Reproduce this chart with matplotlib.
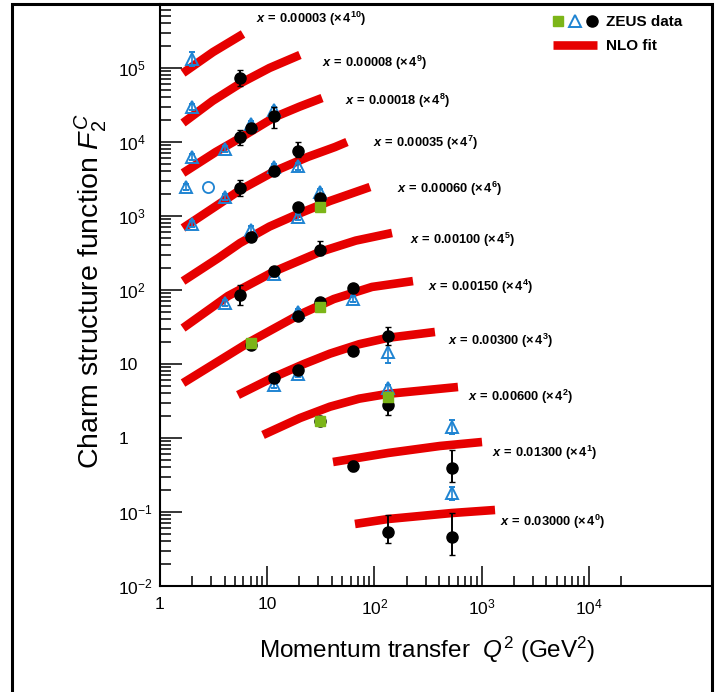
import matplotlib
matplotlib.use("Agg")
import matplotlib.pyplot as plt
from matplotlib.lines import Line2D
from matplotlib.legend_handler import HandlerTuple
from matplotlib.patches import Rectangle
from matplotlib.ticker import FixedLocator, NullFormatter, FixedFormatter

plt.rcParams['font.family'] = ['Liberation Sans', 'DejaVu Sans']
plt.rcParams['mathtext.fontset'] = 'custom'
plt.rcParams['mathtext.rm'] = 'Liberation Sans'
plt.rcParams['mathtext.it'] = 'Liberation Sans:italic'
plt.rcParams['mathtext.bf'] = 'Liberation Sans:bold'
plt.rcParams['mathtext.bfit'] = 'Liberation Sans:bold:italic'

# ---------------- data ----------------
x_bj = ['0.00003', '0.00008', '0.00018', '0.00035', '0.00060', '0.00100',
        '0.00150', '0.00300', '0.00600', '0.01300', '0.03000']
scale_pow = [10, 9, 8, 7, 6, 5, 4, 3, 2, 1, 0]

# NLO fit curves (Q^2, scaled F2c)
fit_q2 = [
    [1.64, 3.12, 5.95],
    [1.64, 3.1, 5.69, 10.5, 20.2],
    [1.64, 3.3, 5.58, 11.8, 20.0, 32.5],
    [1.64, 3.3, 5.58, 11.8, 24.0, 42.9, 55.5],
    [1.64, 3.5, 5.58, 10.5, 19.4, 38.5, 91],
    [1.64, 4.31, 11.6, 31.1, 67, 146],
    [1.64, 6.91, 19.4, 41.8, 95, 229],
    [5.34, 11.6, 22.0, 38.5, 72, 134, 367],
    [9.14, 20.2, 38.5, 72, 134, 602],
    [41.1, 134, 409, 1009],
    [65.9, 134, 530, 1334],
]
fit_f2 = [
    [8.55e4, 1.64e5, 2.88e5],
    [1.81e4, 3.6e4, 6.27e4, 1.0e5, 1.50e5],
    [3810, 7300, 1.13e4, 2.18e4, 3.0e4, 3.93e4],
    [689, 1350, 2244, 4055, 6300, 8550, 1.0e4],
    [132, 270, 431, 720, 1065, 1596, 2465],
    [30.6, 83, 178, 327, 465, 590],
    [5.53, 20.0, 45.5, 75.5, 110, 132],
    [3.81, 6.67, 10.0, 13.8, 18.5, 22.6, 27.1],
    [1.10, 1.86, 2.65, 3.40, 3.95, 4.89],
    [0.474, 0.627, 0.780, 0.883],
    [0.0689, 0.0804, 0.0969, 0.1065],
]

# ZEUS data: black filled circles
dot_q2 = [5.6, 5.6, 7.0, 11.5, 5.6, 11.5, 19.3, 7.0, 19.3, 31, 5.6, 11.5, 31,
          7.0, 19.3, 31, 62.8, 11.5, 19.3, 62.8, 134.8, 31, 134.8, 62.8, 526,
          134.8, 526]
dot_f2 = [72600, 11600, 15300, 22700, 2410, 4060, 7560, 525, 1340, 1770, 85.6,
          181, 347, 18.1, 45.0, 69.5, 105, 6.41, 8.30, 15.1, 23.9, 1.68, 2.79,
          0.423, 0.397, 0.0544, 0.0463]
dot_err_up = [.28, .26, .13, .32, .28, .10, .32, .10, .10, .10, .37, .13, .32,
              .10, .10, .10, .13, .13, .10, .13, .32, .10, .28, .17, .73, .67, 1.07]
dot_err_dn = [.22, .21, .12, .32, .22, .09, .17, .09, .09, .09, .27, .12, .145,
              .09, .09, .09, .09, .09, .09, .09, .24, .09, .27, .145, .35, .30, .43]

# ZEUS data: blue open triangles
tri_q2 = [2.0, 2.0, 2.0, 4.0, 7.0, 11.5, 1.75, 2.0, 4.0, 11.5, 19.3, 7.0, 19.3,
          31, 4.0, 11.5, 19.3, 62.8, 11.5, 19.3, 134.8, 134.8, 526, 526]
tri_f2 = [1.31e5, 2.94e4, 6330, 7970, 17500, 27100, 2440, 780, 1790, 4640, 4670,
          657, 964, 2130, 66.1, 163, 50.9, 74.9, 5.20, 7.33, 14.7, 4.69, 1.41,
          0.179]
tri_err_up = [.25, .10, .10, .10, .10, .10, .10, .10, .10, .10, .12, .10, .10,
              .10, .10, .10, .10, .10, .10, .10, .41, .12, .23, .23]
tri_err_dn = [.20, .09, .09, .09, .09, .09, .09, .09, .09, .09, .11, .09, .09,
              .09, .09, .09, .09, .09, .09, .09, .29, .11, .19, .19]

# ZEUS data: blue open circle
circ_q2 = [2.8]
circ_f2 = [2440]

# ZEUS data: green squares
sq_q2 = [31, 7.0, 31, 31, 134.8]
sq_f2 = [1303, 19.0, 58.4, 1.70, 3.55]
sq_err_dn = [.12, .09, .12, .09, .09]

# label anchors (Q^2, F2) for the x-labels
lab_q2 = [7.86, 32.5, 53.2, 97, 162.5, 215, 316, 486, 747, 1250, 1485]
lab_f2 = [4.59e5, 1.19e5, 3.58e4, 9690, 2317, 474, 110, 20.5, 3.58, 0.627, 0.0733]

# ---------------- plot ----------------
W, H = 719, 692
fig = plt.figure(figsize=(W / 100, H / 100), dpi=100)
ax = fig.add_axes([160 / W, 1 - 586 / H, (711.7 - 160) / W, (586 - 4) / H])
ax.set_xscale('log')
ax.set_yscale('log')
ax.set_xlim(1, 10 ** ((711.7 - 160) / 107.2))
ax.set_ylim(0.01, 10 ** ((586 - 4) / 74 - 2))

RED = '#e60000'
BLUE = '#1f84d2'
GREEN = '#7cb518'

for q, f in zip(fit_q2, fit_f2):
    ax.plot(q, f, color=RED, lw=6.2, solid_capstyle='butt', solid_joinstyle='round',
            zorder=2)

def asym(vals, up, dn):
    return [[v * d for v, d in zip(vals, dn)], [v * u for v, u in zip(vals, up)]]

ax.errorbar(tri_q2, tri_f2, yerr=asym(tri_f2, tri_err_up, tri_err_dn), fmt='^',
            ms=8, mfc='none', mec=BLUE, mew=1.4, ecolor=BLUE, elinewidth=1.2,
            capsize=2, capthick=1.0, zorder=3)
ax.plot(circ_q2, circ_f2, 'o', ms=8, mfc='none', mec=BLUE, mew=1.3, zorder=3)
ax.errorbar(dot_q2, dot_f2, yerr=asym(dot_f2, dot_err_up, dot_err_dn), fmt='o',
            ms=8, color='black', ecolor='black', elinewidth=1.4,
            capsize=2, capthick=1.0, zorder=4)
ax.errorbar(sq_q2, sq_f2, yerr=[[v * d for v, d in zip(sq_f2, sq_err_dn)], [0] * len(sq_f2)],
            fmt='s', ms=7, color=GREEN, ecolor=GREEN, elinewidth=1.2, zorder=5)

for xb, p, lq, lf in zip(x_bj, scale_pow, lab_q2, lab_f2):
    ax.text(lq, lf, r'$\mathbfit{x}\mathbf{\,=\,' + xb + r'\ (\times\,4^{' + str(p) + r'})}$',
            fontsize=9.3, ha='left', va='center', zorder=6)

# axes styling
for s in ['top', 'right']:
    ax.spines[s].set_visible(False)
ax.spines['left'].set_linewidth(1.5)
ax.spines['bottom'].set_linewidth(1.5)

ax.xaxis.set_major_locator(FixedLocator([1, 10, 100, 1000, 10000]))
ax.xaxis.set_major_formatter(FixedFormatter(['1', '10', '$10^2$', '$10^3$', '$10^4$']))
xminor = [m * 10 ** k for k in range(4) for m in range(2, 10)] + [20000]
ax.xaxis.set_minor_locator(FixedLocator(xminor))
ax.xaxis.set_minor_formatter(NullFormatter())

ydec = [1e-2, 1e-1, 1, 10, 1e2, 1e3, 1e4, 1e5]
ax.yaxis.set_major_locator(FixedLocator(ydec))
ax.yaxis.set_major_formatter(FixedFormatter(['$10^{-2}$', '$10^{-1}$', '1', '10',
                                              '$10^2$', '$10^3$', '$10^4$', '$10^5$']))
yminor = [m * 10 ** k for k in range(-2, 6) for m in range(2, 10)]
ax.yaxis.set_minor_locator(FixedLocator(yminor))
ax.yaxis.set_minor_formatter(NullFormatter())

ax.tick_params(which='major', direction='in', length=16, width=1.1, labelsize=12.5)
ax.tick_params(which='minor', direction='in', length=8, width=1.1)
ax.tick_params(axis='x', which='major', length=14.5, pad=8)
ax.tick_params(axis='x', which='minor', length=7.5)
ax.tick_params(axis='y', which='major', pad=30)
for lbl in ax.get_yticklabels():
    lbl.set_horizontalalignment('left')

ax.set_xlabel(r'Momentum transfer  $Q^2$ (GeV$^2$)', fontsize=17.5)
ax.xaxis.set_label_coords(0.485, -0.083)
ax.set_ylabel(r'Charm structure function $F_2^C$', fontsize=20.5)
ax.yaxis.set_label_coords(-0.092, 0.507)

# legend
h_sq = Line2D([], [], marker='s', ls='none', ms=7, color=GREEN)
h_tri = Line2D([], [], marker='^', ls='none', ms=8, mfc='none', mec=BLUE, mew=1.4)
h_dot = Line2D([], [], marker='o', ls='none', ms=8, color='black')
h_fit = Line2D([], [], color=RED, lw=6.2, solid_capstyle='butt')
leg = ax.legend([(h_sq, h_tri, h_dot), h_fit], ['ZEUS data', 'NLO fit'],
                handler_map={tuple: HandlerTuple(ndivide=None, pad=0.45)},
                loc='upper left', bbox_to_anchor=(553 / W, 1 - 15 / H),
                bbox_transform=fig.transFigure, frameon=False, borderpad=0,
                borderaxespad=0, handlelength=2.85, handletextpad=0.65,
                labelspacing=0.65, prop={'weight': 'bold', 'size': 11})

# figure frame
fig.add_artist(Rectangle((12 / W, -0.05), (711.7 - 12) / W, 1.05 - 4 / H,
                         transform=fig.transFigure, fill=False, lw=2.2,
                         edgecolor='black', clip_on=False))

fig.savefig('out.png', dpi=100)
